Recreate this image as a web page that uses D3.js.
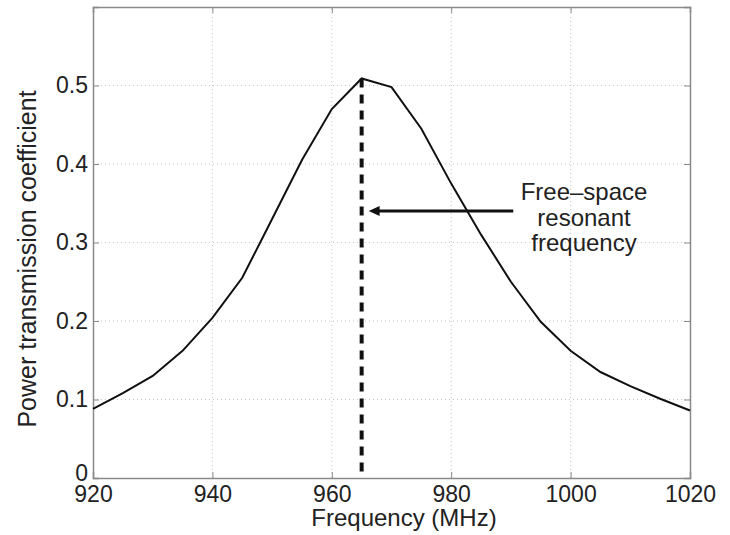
<!DOCTYPE html>
<html>
<head>
<meta charset="utf-8">
<script src="https://cdn.jsdelivr.net/npm/d3@7"></script>
<style>
  body { margin: 0; background: #fff; }
  svg { display: block; }
  text { font-family: "Liberation Sans", Arial, sans-serif; fill: #222; }
</style>
</head>
<body>
<svg></svg>
<script>
// frequency samples (MHz) and power transmission coefficient
const freqs = [920, 925, 930, 935, 940, 945, 950, 955, 960, 965, 970,
               975, 980, 985, 990, 995, 1000, 1005, 1010, 1015, 1020];
const power = [0.088, 0.108, 0.130, 0.162, 0.204, 0.255, 0.330, 0.405, 0.470, 0.509, 0.498,
               0.445, 0.375, 0.310, 0.250, 0.199, 0.162, 0.135, 0.117, 0.101, 0.086];
const xTicks = [920, 940, 960, 980, 1000, 1020];
const yTicks = [0, 0.1, 0.2, 0.3, 0.4, 0.5];
const resonantFreq = 965;
const resonantPower = 0.509;
const arrowFrom = 990.4;   // tail of the annotation arrow (MHz)
const arrowLevel = 0.34;
const noteLines = ["Free\u2013space", "resonant", "frequency"];

const width = 730, height = 535;
const margin = { left: 93, right: 40, top: 7, bottom: 57 };

const svg = d3.select("svg").attr("width", width).attr("height", height);

const x = d3.scaleLinear().domain([920, 1020]).range([margin.left, width - margin.right]);
const y = d3.scaleLinear().domain([0, 0.6]).range([height - margin.bottom, margin.top]);

const g = svg.append("g");

// dotted grid
g.selectAll(".vgrid").data(xTicks.slice(1, -1)).enter().append("line")
    .attr("x1", d => x(d)).attr("x2", d => x(d))
    .attr("y1", y(0)).attr("y2", y(0.6))
    .attr("stroke", "#c4c4c4").attr("stroke-width", 1)
    .attr("stroke-dasharray", "1,3");
g.selectAll(".hgrid").data(yTicks.slice(1)).enter().append("line")
    .attr("x1", x(920)).attr("x2", x(1020))
    .attr("y1", d => y(d)).attr("y2", d => y(d))
    .attr("stroke", "#c4c4c4").attr("stroke-width", 1)
    .attr("stroke-dasharray", "1,3");

// axes with inward ticks
const xAxis = d3.axisBottom(x).tickValues(xTicks).tickSize(-6).tickPadding(8).tickFormat(d3.format("d"));
const yAxis = d3.axisLeft(y).tickValues(yTicks).tickSize(-6).tickPadding(5).tickFormat(d => d === 0 ? "0" : d3.format(".1f")(d));

const gx = g.append("g").attr("transform", `translate(0,${y(0)})`).call(xAxis);
const gy = g.append("g").attr("transform", `translate(${x(920)},0)`).call(yAxis);
const gxTop = g.append("g").attr("transform", `translate(0,${y(0.6)})`)
    .call(d3.axisTop(x).tickValues(xTicks).tickSize(-6).tickFormat(""));
const gyRight = g.append("g").attr("transform", `translate(${x(1020)},0)`)
    .call(d3.axisRight(y).tickValues(yTicks).tickSize(-6).tickFormat(""));

[gx, gy, gxTop, gyRight].forEach(a => {
    a.select(".domain").attr("stroke", "#8a8a8a").attr("stroke-width", 1.5);
    a.selectAll(".tick line").attr("stroke", "#8a8a8a");
    a.selectAll(".tick text").style("font-size", "23px").attr("fill", "#222");
});
// the "0" sits just above the 920 label, as in the original
gy.selectAll(".tick text").filter(d => d === 0).attr("dy", "0.1em");

// curve
const line = d3.line().x((d, i) => x(freqs[i])).y(d => y(d));
g.append("path")
    .datum(power)
    .attr("d", line)
    .attr("fill", "none")
    .attr("stroke", "#111")
    .attr("stroke-width", 2);

// dashed resonant marker
g.append("line")
    .attr("x1", x(resonantFreq)).attr("x2", x(resonantFreq))
    .attr("y1", y(resonantPower)).attr("y2", y(0))
    .attr("stroke", "#111").attr("stroke-width", 4)
    .attr("stroke-dasharray", "9,7");

// annotation arrow
const tipX = x(resonantFreq) + 7;
g.append("line")
    .attr("x1", x(arrowFrom)).attr("x2", tipX + 8)
    .attr("y1", y(arrowLevel)).attr("y2", y(arrowLevel))
    .attr("stroke", "#111").attr("stroke-width", 3);
g.append("path")
    .attr("d", `M${tipX},${y(arrowLevel)} L${tipX + 11},${y(arrowLevel) - 5} L${tipX + 11},${y(arrowLevel) + 5} Z`)
    .attr("fill", "#111");

// annotation text
g.append("text")
    .attr("x", 584).attr("y", 200)
    .attr("text-anchor", "middle")
    .style("font-size", "24px")
    .selectAll("tspan").data(noteLines).enter().append("tspan")
    .attr("x", 584)
    .attr("dy", (d, i) => i === 0 ? 0 : 25.5)
    .text(d => d);

// axis labels
svg.append("text")
    .attr("x", 404).attr("y", 526)
    .attr("text-anchor", "middle")
    .style("font-size", "24px")
    .text("Frequency (MHz)");
svg.append("text")
    .attr("transform", `translate(36,259) rotate(-90)`)
    .attr("text-anchor", "middle")
    .style("font-size", "25px")
    .text("Power transmission coefficient");
</script>
</body>
</html>
